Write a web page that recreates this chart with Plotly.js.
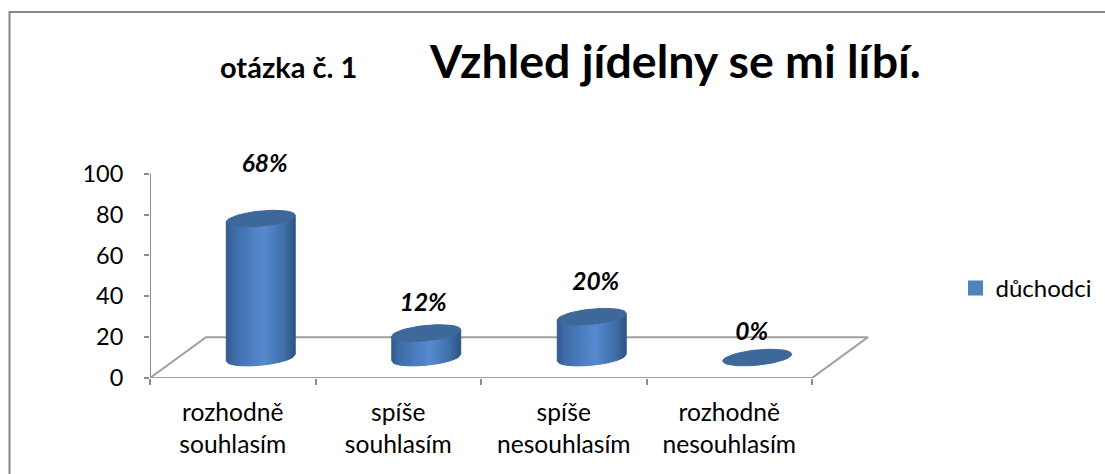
<!DOCTYPE html>
<html>
<head>
<meta charset="utf-8">
<script src="https://cdn.plot.ly/plotly-3.0.1.min.js"></script>
<style>html,body{margin:0;padding:0;background:#fff}#c{width:1105px;height:474px}</style>
</head>
<body>
<div id="c"></div>
<script>
const categories = ['rozhodně<br>souhlasím','spíše<br>souhlasím','spíše<br>nesouhlasím','rozhodně<br>nesouhlasím'];
const values = [68, 12, 20, 0];
const seriesName = 'důchodci';
const yTicks = [0, 20, 40, 60, 80, 100];
const titleMain = 'Vzhled jídelny se mi líbí.';
const titleSub = 'otázka č. 1';

// label nudges (px) relative to the top of each cylinder
const labelDx = [4, -3, 4, -5.5];
const labelDy = [53, 28, 33, 24];

const pxX = 165.5, pxY = 2.04;           // px per data unit
const depthX = 56 / pxX, depthY = 20;    // floor depth in data units
const fontFam = 'Lato, "Open Sans", sans-serif';
const plotW = 719, plotH = 115*pxY;

// one cylinder cross-section, in px offsets (y up)
const rx = 31.6, sx = 13.8, h = 8.3;
const ell = t => [rx*Math.cos(t) + sx*Math.sin(t), h*Math.sin(t)];
const tRight = Math.atan2(sx, rx), tLeft = tRight + Math.PI; // silhouette extremes

const centers = categories.map((_, i) => i + 0.5 + depthX/2);
const base = depthY/2;

const stops = [[0,[50,90,140]],[0.12,[62,108,168]],[0.55,[86,138,208]],[0.85,[64,110,168]],[1,[46,84,130]]];
function colorAt(f){
  for(let i=1;i<stops.length;i++){
    if(f<=stops[i][0]){
      const a=stops[i-1],b=stops[i],k=(f-a[0])/(b[0]-a[0]);
      const c=a[1].map((v,j)=>Math.round(v+(b[1][j]-v)*k));
      return `rgb(${c[0]},${c[1]},${c[2]})`;
    }
  }
  return 'rgb(46,84,130)';
}

const traces = [];

// floor outline
traces.push({type:'scatter',mode:'lines',cliponaxis:false,x:[0,4,4+depthX,depthX,0],y:[0,0,depthY,depthY,0],
  line:{color:'#a0a0a0',width:2},hoverinfo:'skip',showlegend:false});

// y axis line (stops at 100 while the range leaves room for the labels)
traces.push({type:'scatter',mode:'lines',cliponaxis:false,x:[0,0],y:[0,100],
  line:{color:'#8c8c8c',width:2},hoverinfo:'skip',showlegend:false});

// legend entry
traces.push({type:'scatter',mode:'markers',name:seriesName,x:[null],y:[null],
  marker:{color:'#4f81bd',symbol:'square',size:15},hoverinfo:'skip',showlegend:true});

// shaded cylinder walls: one trace per colour band
const N = 30;
const R = Math.hypot(rx,sx);
const tFor = x => { // front side of the ellipse, by bisection
  let a=tLeft,b=tRight+2*Math.PI;
  for(let n=0;n<30;n++){const m=(a+b)/2; if(ell(m)[0]<x) a=m; else b=m;}
  return (a+b)/2;
};
for(let k=0;k<N;k++){
  const xs=[],ys=[];
  values.forEach((v,i)=>{
    if(v<=0) return;
    const p0=ell(tFor(-R+2*R*k/N)), p1=ell(tFor(-R+2*R*(k+1)/N));
    const X=p=>centers[i]+p[0]/pxX;
    const Y=(p,top)=>base+(top?v:0)+p[1]/pxY;
    xs.push(X(p0),X(p1),X(p1),X(p0),X(p0),null);
    ys.push(Y(p0,false),Y(p1,false),Y(p1,true),Y(p0,true),Y(p0,false),null);
  });
  const col=colorAt((k+0.5)/N);
  traces.push({type:'scatter',mode:'lines',x:xs,y:ys,fill:'toself',fillcolor:col,
    line:{color:col,width:1},hoverinfo:'skip',showlegend:false});
}

// top caps
const cx=[],cy=[];
values.forEach((v,i)=>{
  for(let a=0;a<=48;a++){
    const p=ell(a/48*2*Math.PI);
    cx.push(centers[i]+p[0]/pxX); cy.push(base+v+p[1]/pxY);
  }
  cx.push(null); cy.push(null);
});
traces.push({type:'scatter',mode:'lines',x:cx,y:cy,fill:'toself',fillcolor:'#3e6899',
  line:{color:'#3e6899',width:1},hoverinfo:'skip',showlegend:false});

// value labels
traces.push({type:'scatter',mode:'text',cliponaxis:false,
  x:centers.map((c,i)=>c+labelDx[i]/pxX),
  y:values.map((v,i)=>base+v+labelDy[i]/pxY),
  text:values.map(v=>v+'%'),textposition:'middle center',
  textfont:{family:fontFam,size:24.5,color:'#000',weight:700,style:'italic'},
  hoverinfo:'skip',showlegend:false});

const py = v => (378-v)/plotH, px = v => (v-150)/plotW; // paper fractions from page px
const layout = {
  width:1105,height:474,
  margin:{l:150,t:474-96-plotH,b:96,r:1105-150-plotW,autoexpand:false},
  paper_bgcolor:'#fff',plot_bgcolor:'rgba(0,0,0,0)',
  showlegend:true,
  legend:{xref:'container',yref:'container',x:955.5/1105,y:1-288.5/474,xanchor:'left',yanchor:'middle',
    font:{family:fontFam,size:24,color:'#000'},bgcolor:'rgba(0,0,0,0)',itemwidth:30},
  title:{text:'<b>'+titleMain+'</b>',font:{family:fontFam,size:46.5,color:'#000'},
    x:675.5/1105,xanchor:'center',xref:'container',yref:'container',y:1-62/474,yanchor:'middle'},
  xaxis:{range:[0,plotW/pxX],tickmode:'array',tickvals:categories.map((_,i)=>i+0.5),ticktext:categories,
    showgrid:false,zeroline:false,showline:false,ticks:'',ticklabelstandoff:17,
    tickfont:{family:fontFam,size:24.6,color:'#000'},
    minor:{tickmode:'array',tickvals:[0,1,2,3,4],ticks:'outside',ticklen:6,tickwidth:2,tickcolor:'#8c8c8c',showgrid:false}},
  yaxis:{range:[0,115],tickmode:'array',tickvals:yTicks,showgrid:false,zeroline:false,
    showline:false,ticks:'outside',ticklen:5,tickwidth:2,tickcolor:'#8c8c8c',ticklabelstandoff:16,
    tickfont:{family:fontFam,size:23.5,color:'#000'}},
  annotations:[{xref:'paper',yref:'paper',x:px(288),y:py(67),xanchor:'center',yanchor:'middle',
    text:'<b>'+titleSub+'</b>',showarrow:false,font:{family:fontFam,size:29,color:'#000'}}],
  shapes:[{type:'path',xref:'paper',yref:'paper',
    path:`M ${px(9.5)} ${py(500)} L ${px(9.5)} ${py(12.5)} L ${px(1110)} ${py(12.5)}`,
    line:{color:'#868686',width:2}}]
};
Plotly.newPlot('c',traces,layout,{displayModeBar:false,responsive:false});
</script>
</body>
</html>
